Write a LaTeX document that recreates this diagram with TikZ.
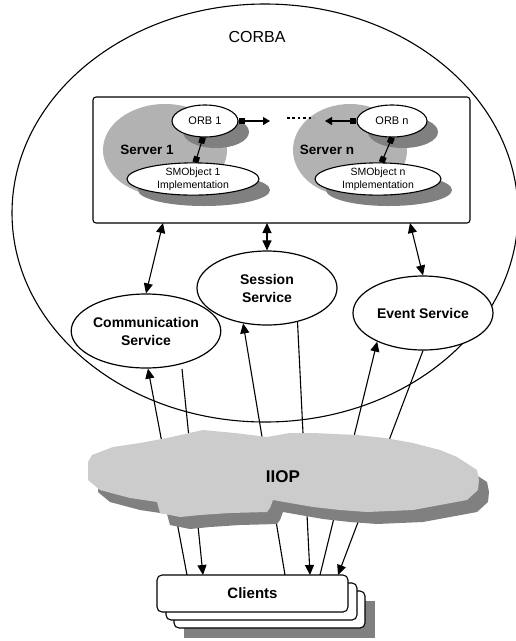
\documentclass[tikz,border=0pt]{standalone}
\usepackage{fontspec}
\setmainfont{Liberation Sans}
\usetikzlibrary{shapes.geometric,arrows.meta,calc}
\definecolor{blobgray}{RGB}{178,178,178}
\definecolor{shadowgray}{RGB}{128,128,128}
\definecolor{cloudgray}{RGB}{204,204,204}
\begin{document}
\begin{tikzpicture}[x=1pt,y=-1pt,line join=round,
  ln/.style={line width=1.1pt},
  tip/.style={-{Triangle[length=10pt,width=9pt]}},
  dtip/.style={{Triangle[length=10pt,width=9pt]}-{Triangle[length=10pt,width=9pt]}},
  orb/.style={ellipse,draw,line width=1.1pt,fill=white,inner sep=0pt,minimum width=66pt,minimum height=32pt,font=\fontsize{11}{13}\selectfont},
  smo/.style={ellipse,draw,line width=1.1pt,fill=white,inner sep=0pt,minimum width=132pt,minimum height=32pt,align=center,font=\fontsize{10.5}{13}\selectfont},
  svc/.style={ellipse,draw,line width=1.2pt,fill=white,inner sep=0pt,minimum width=140pt,minimum height=74pt,align=center,font=\bfseries\fontsize{14}{18}\selectfont},
  srvlabel/.style={font=\bfseries\fontsize{13.5}{16}\selectfont},
  clientbox/.style={draw,line width=1.1pt,fill=white,rounded corners=5pt,minimum width=191pt,minimum height=37pt,inner sep=0pt},
  sq/.style={{Square[length=6pt,width=6pt]}-{Square[length=6pt,width=6pt]}},
  sqtri/.style={{Square[length=6pt,width=6pt]}-{Triangle[length=7pt,width=8pt]}}
]
\useasboundingbox (0,0) rectangle (516,641);

% CORBA domain
\draw[ln] (265,213) ellipse [x radius=253, y radius=209];
\node[font=\fontsize{16}{18}\selectfont] (corba) at (257,37) {CORBA};

% server box
\node[draw,line width=1.1pt,rounded corners=3pt,fill=white,minimum width=377pt,minimum height=126pt,inner sep=0pt] (box) at (281.5,160) {};

% server blobs and shadows
\fill[blobgray] (165,150) ellipse [x radius=62, y radius=46];
\fill[blobgray] (350,150) ellipse [x radius=57, y radius=46];
\fill[shadowgray] (216,132) ellipse [x radius=33, y radius=16];
\fill[shadowgray] (204,190) ellipse [x radius=66, y radius=16];
\fill[shadowgray] (403,132) ellipse [x radius=35, y radius=16];
\fill[shadowgray] (389,190) ellipse [x radius=63, y radius=16];

\node[srvlabel] (s1) at (147,150) {Server 1};
\node[srvlabel] (sn) at (327,150) {Server n};

\node[orb] (orb1) at (205,121) {ORB 1};
\node[orb,minimum width=70pt] (orbn) at (392,121) {ORB n};
\node[smo] (smo1) at (193,179) {SMObject 1\\Implementation};
\node[smo,minimum width=126pt] (smon) at (378,179) {SMObject n\\Implementation};

% ORB links
\coordinate (r1) at (270,121);
\coordinate (rn) at (325,121);
\coordinate (d1) at (287,118);
\coordinate (d2) at (314,118);
\draw[ln,sqtri] (orb1.east) -- (r1);
\draw[ln,sqtri] (orbn.west) -- (rn);
\draw[line width=2.6pt,dash pattern=on 2.6pt off 2.8pt] (d1) -- (d2);
\draw[ln,sq] (orb1.-97) -- (smo1.82);
\draw[ln,sq] (orbn.-90) -- (smon.78);

% services
\node[svc,minimum width=142pt] (comm) at (146,331) {Communication\\Service};
\node[svc] (sess) at (267,288) {Session\\Service};
\node[svc] (event) at (423,313) {Event Service};

\coordinate (b1) at (163,223);
\coordinate (b2) at (267,223);
\coordinate (b3) at (410,223);
\draw[ln,dtip] (b1) -- (comm.north);
\draw[ln,dtip] (b2) -- (sess.north);
\draw[ln,dtip] (b3) -- (event.north);

% client links
\coordinate (c1) at (187,575);
\coordinate (c2) at (203,575);
\coordinate (c3) at (285,575);
\coordinate (c4) at (310,575);
\coordinate (c5) at (320,575);
\coordinate (c6) at (338,575);
\coordinate (cs) at (182,369);
\draw[ln,tip] (c1) -- (comm.-87);
\draw[ln,tip] (cs) -- (c2);
\draw[ln,tip] (c3) -- (sess.-124.6);
\draw[ln,tip] (sess.-48) -- (c4);
\draw[ln,tip] (c5) -- (event.-148.8);
\draw[ln,tip] (event.-90) -- (c6);

% IIOP cloud
\def\cloudpath{(88,462) -- (92,455) -- (113,447) -- (140,443) -- (167,438) -- (203,430) -- (235,433) -- (267,437) -- (290,433) -- (313,433) -- (357,435) -- (385,438) -- (413,443) -- (440,450) -- (457,457) -- (477,470) -- (479,480) -- (478,490) -- (467,500) -- (440,505) -- (413,510) -- (367,512) -- (340,510) -- (313,507) -- (290,503) -- (273,500) -- (270,508) -- (267,512) -- (230,513) -- (200,515) -- (180,517) -- (160,513) -- (157,502) -- (130,498) -- (100,490) -- (88,480) -- cycle}
\fill[shadowgray,shift={(10,12)}] \cloudpath;
\fill[cloudgray] \cloudpath;
\node[font=\bfseries\fontsize{17}{20}\selectfont] (iiop) at (283,477) {IIOP};

% clients stack
\fill[shadowgray] (279.5,619.5) ++(-95.5,-18.5) rectangle ++(191,37);
\node[clientbox] (cl3) at (269.5,609.5) {};
\node[clientbox] (cl2) at (261.5,601.5) {};
\node[clientbox,font=\bfseries\fontsize{15}{18}\selectfont] (cl) at (252.5,593.5) {Clients};
\end{tikzpicture}
\end{document}
